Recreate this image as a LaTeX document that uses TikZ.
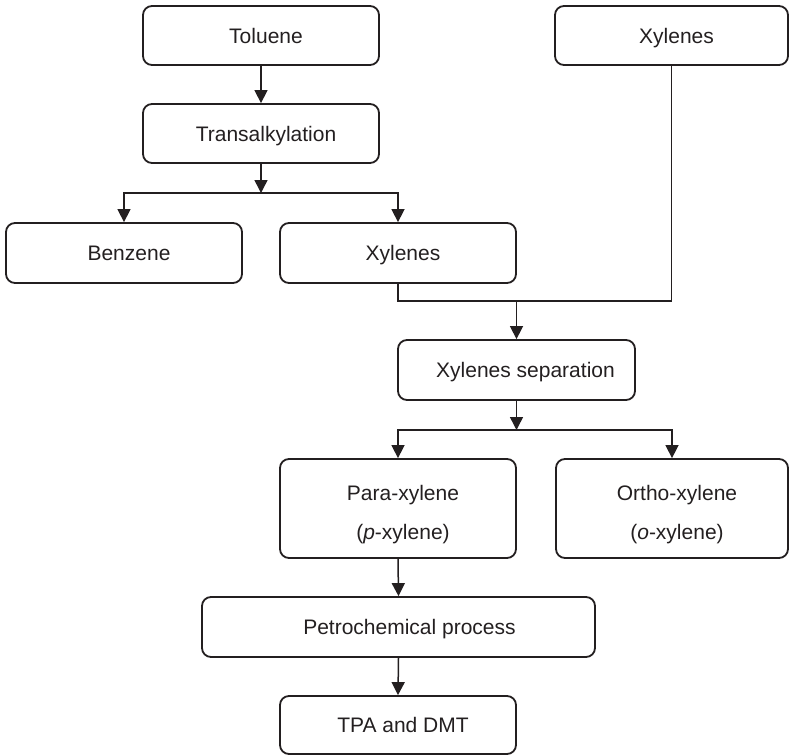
\documentclass[tikz,border=0pt]{standalone}
\usepackage{fontspec}
\setmainfont{Liberation Sans}
\usetikzlibrary{arrows.meta}
\definecolor{ink}{HTML}{231F20}
\newcommand\tsh{\hspace*{10pt}}
\begin{document}
\begin{tikzpicture}[x=1pt,y=-1pt,
  box/.style={draw=ink, line width=1.8pt, rounded corners=9pt, inner sep=0pt,
    align=center, font=\fontsize{21}{38.5}\selectfont, text=ink},
  onebox/.style={box, text height=15pt, text depth=0pt},
  conn/.style={draw=ink, line width=1.5pt},
  arr/.style={conn, -{Triangle[length=13pt,width=13pt]}}]
\useasboundingbox (0,0) rectangle (789,755);
\node[onebox, minimum width=236pt, minimum height=59pt] (tol) at (261,35.5) {\tsh Toluene};
\node[onebox, minimum width=233pt, minimum height=59pt] (xyt) at (671.5,35.5) {\tsh Xylenes};
\node[onebox, minimum width=236pt, minimum height=59pt] (tra) at (261,133.5) {\tsh Transalkylation};
\node[onebox, minimum width=236pt, minimum height=60pt] (ben) at (124,253) {\tsh Benzene};
\node[onebox, minimum width=236pt, minimum height=60pt] (xym) at (398,253) {\tsh Xylenes};
\node[onebox, minimum width=237pt, minimum height=60pt] (sep) at (516.5,370) {\hspace*{18pt}Xylenes separation};
\node[box, minimum width=236pt, minimum height=99pt] (par) at (398,508.5) {\rule{0pt}{27pt}\tsh Para-xylene\\\tsh(\textit{p}-xylene)};
\node[box, minimum width=232pt, minimum height=99pt] (ort) at (672,508.5) {\rule{0pt}{27pt}\tsh Ortho-xylene\\\tsh(\textit{o}-xylene)};
\node[onebox, minimum width=393pt, minimum height=60pt] (pet) at (398.5,627) {\hspace*{22pt}Petrochemical process};
\node[onebox, minimum width=236pt, minimum height=58pt] (tpa) at (398,725) {\tsh TPA and DMT};
\coordinate (b1) at (261,193);
\coordinate (j1) at (516.5,301);
\coordinate (b2) at (516.5,430);
\draw[arr] (tol.south) -- (tra.north);
\draw[arr] (tra.south) -- (b1);
\draw[arr] (b1) -| (ben.north);
\draw[arr] (b1) -| (xym.north);
\draw[conn] (xym.south) |- (j1);
\draw[conn] (xyt.south) |- (j1);
\draw[arr] (j1) -- (sep.north);
\draw[arr] (sep.south) -- (b2);
\draw[arr] (b2) -| (par.north);
\draw[arr] (b2) -| (ort.north);
\draw[arr] (par.south) -- (pet.north);
\draw[arr] (pet.south) -- (tpa.north);
\end{tikzpicture}
\end{document}
